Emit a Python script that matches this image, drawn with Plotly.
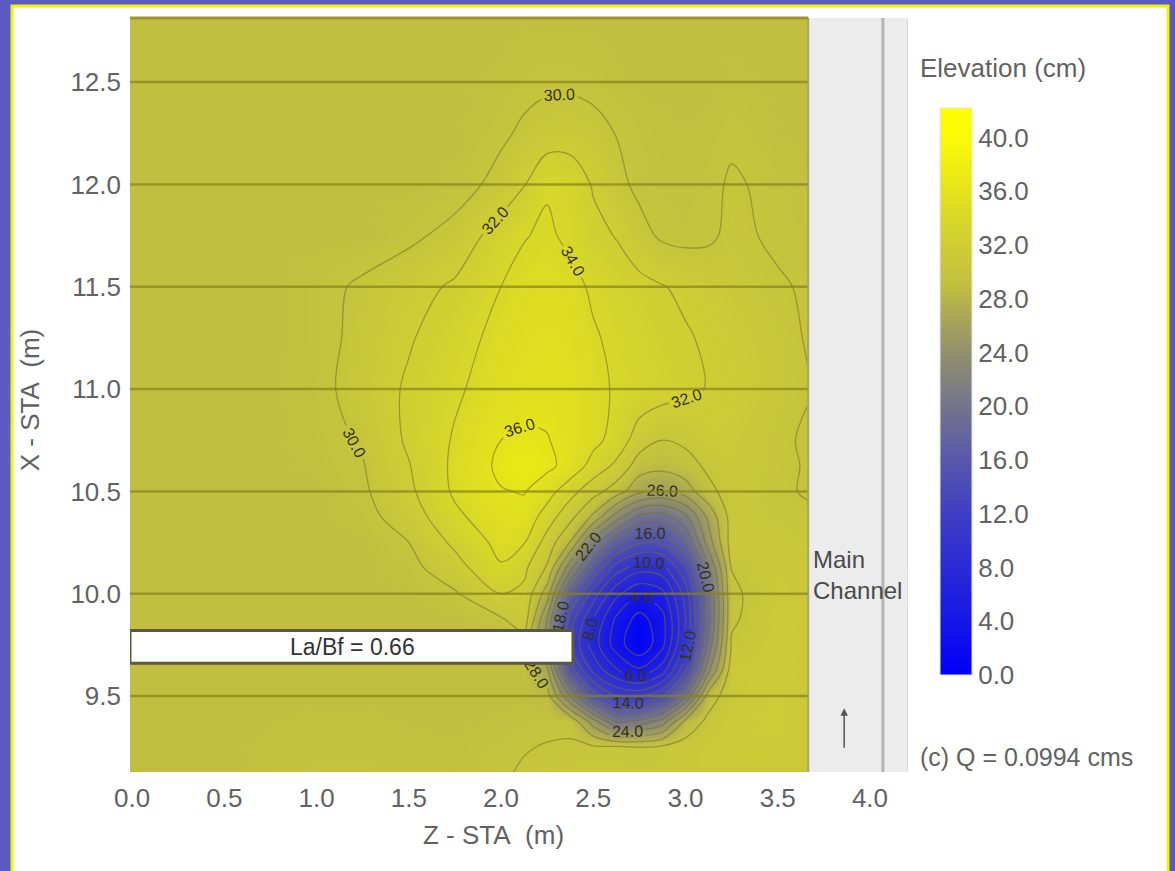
import plotly.graph_objects as go

# ---------------- data ----------------
z_sta = [0.0, 0.25, 0.5, 0.75, 1.0, 1.25, 1.5, 1.75, 2.0, 2.125, 2.25, 2.375,
         2.5, 2.625, 2.75, 2.875, 3.0, 3.125, 3.25, 3.5, 3.66]
x_sta = [9.12, 9.25, 9.375, 9.5, 9.625, 9.75, 9.875, 10.0, 10.125, 10.25, 10.375,
         10.5, 10.625, 10.75, 11.0, 11.25, 11.5, 11.75, 12.0, 12.25, 12.5, 12.82]

# elevation (cm), one row per x_sta value, one column per z_sta value
elevation = [
    [29.0, 29.0, 29.0, 29.3, 29.6, 29.6, 29.4, 29.3, 29.8, 30.2, 30.5, 30.6, 30.6, 30.6, 30.5, 30.6, 30.8, 31.0, 31.0, 31.0, 30.8],
    [29.0, 29.0, 29.0, 29.2, 29.4, 29.4, 29.3, 29.2, 29.6, 29.9, 30.1, 30.2, 30.3, 30.35, 30.05, 30.4, 30.8, 31.0, 31.2, 31.3, 31.0],
    [29.0, 29.0, 29.0, 29.1, 29.2, 29.2, 29.1, 29.0, 29.2, 29.4, 29.6, 29.6, 25.0, 20.0, 20.8, 23.0, 28.6, 30.5, 31.2, 31.5, 31.0],
    [29.0, 29.0, 29.0, 29.0, 29.0, 29.0, 29.0, 29.0, 29.0, 29.0, 28.8, 22.0, 15.0, 12.0, 11.6, 13.8, 19.9, 29.1, 31.0, 31.4, 31.0],
    [29.0, 29.0, 29.0, 29.0, 29.0, 29.0, 29.0, 29.0, 29.0, 29.0, 26.5, 15.0, 9.5, 6.2, 4.4, 7.0, 13.7, 23.6, 31.0, 31.2, 31.0],
    [29.0, 29.0, 29.0, 29.0, 29.0, 29.0, 29.0, 29.0, 29.0, 29.0, 23.5, 12.0, 7.0, 3.0, 0.3, 3.4, 10.7, 20.6, 30.2, 31.3, 31.0],
    [29.0, 29.0, 29.0, 29.0, 29.0, 29.0, 29.0, 29.0, 29.8, 31.0, 24.0, 13.0, 8.0, 3.6, 1.2, 3.3, 10.0, 19.4, 29.75, 31.2, 31.0],
    [29.0, 29.0, 29.0, 29.0, 29.0, 29.0, 29.0, 29.8, 32.0, 31.6, 27.0, 17.0, 11.0, 6.5, 4.2, 5.4, 10.8, 19.8, 29.7, 31.0, 30.8],
    [29.0, 29.0, 29.0, 29.0, 29.0, 29.0, 29.4, 31.2, 33.8, 32.4, 29.75, 22.7, 16.0, 11.0, 8.7, 9.2, 13.7, 21.7, 30.05, 30.9, 30.7],
    [29.0, 29.0, 29.0, 29.0, 29.0, 29.0, 30.0, 32.4, 34.6, 34.1, 31.2, 27.9, 21.2, 16.6, 14.2, 14.4, 18.0, 25.0, 30.9, 30.7, 30.5],
    [29.0, 29.0, 29.0, 29.0, 29.0, 29.4, 30.9, 33.6, 35.2, 35.4, 33.0, 30.6, 27.6, 23.0, 19.5, 19.0, 21.5, 26.5, 30.8, 30.4, 30.2],
    [29.0, 29.0, 29.0, 29.0, 29.0, 29.7, 31.6, 34.3, 35.9, 36.1, 34.9, 32.7, 30.8, 29.0, 26.5, 25.8, 27.0, 29.5, 30.8, 30.2, 29.9],
    [29.0, 29.0, 29.0, 29.0, 29.2, 29.9, 31.9, 34.4, 36.4, 37.2, 36.4, 35.4, 33.2, 31.6, 29.0, 28.6, 29.2, 30.4, 30.9, 30.3, 29.9],
    [29.0, 29.0, 29.0, 29.0, 29.3, 30.2, 32.3, 34.2, 36.0, 36.3, 36.1, 35.3, 34.6, 33.2, 31.0, 30.0, 30.4, 31.2, 31.0, 30.3, 29.8],
    [29.0, 29.0, 29.0, 29.0, 29.5, 30.7, 32.3, 33.7, 35.0, 35.3, 35.4, 35.2, 34.5, 33.8, 33.3, 32.9, 32.4, 31.9, 31.5, 30.6, 30.1],
    [29.0, 29.0, 29.0, 29.0, 29.4, 30.5, 31.8, 33.2, 34.6, 35.0, 35.2, 35.0, 34.2, 33.6, 33.1, 32.6, 32.2, 31.7, 31.3, 30.5, 29.9],
    [29.0, 29.0, 29.0, 29.0, 29.4, 30.3, 31.2, 32.3, 34.0, 34.6, 34.8, 34.6, 33.7, 33.1, 32.6, 32.1, 31.6, 31.2, 30.8, 30.2, 29.8],
    [29.0, 29.0, 29.0, 29.0, 29.0, 29.0, 29.6, 30.6, 33.0, 33.9, 34.3, 33.6, 32.6, 31.9, 30.6, 29.7, 29.5, 29.7, 30.4, 29.7, 29.4],
    [29.0, 29.0, 29.0, 29.0, 29.0, 29.0, 29.0, 29.2, 30.6, 31.9, 33.8, 33.5, 31.8, 30.5, 29.6, 29.4, 29.4, 29.6, 30.2, 29.6, 29.3],
    [29.0, 29.0, 29.0, 29.0, 29.0, 29.0, 29.0, 29.0, 29.7, 30.3, 30.8, 30.9, 30.6, 29.95, 29.5, 29.2, 29.1, 29.3, 29.7, 29.1, 29.0],
    [29.0, 29.0, 29.0, 29.0, 29.0, 29.0, 29.0, 29.0, 29.2, 29.5, 29.7, 29.7, 29.5, 29.2, 29.0, 29.0, 29.0, 29.0, 29.2, 29.0, 29.0],
    [29.0, 29.0, 29.0, 29.0, 29.0, 29.0, 29.0, 29.0, 29.0, 29.0, 29.0, 29.0, 29.0, 29.0, 29.0, 29.0, 29.0, 29.0, 29.0, 29.0, 29.0],
]

x_tick_values = [0.0, 0.5, 1.0, 1.5, 2.0, 2.5, 3.0, 3.5, 4.0]
y_tick_values = [9.5, 10.0, 10.5, 11.0, 11.5, 12.0, 12.5]
colorbar_ticks = [0, 4, 8, 12, 16, 20, 24, 28, 32, 36, 40]

abutment_length = 2.39          # m (La)
abutment_x = [9.66, 9.82]       # m
floodplain_edge = 3.665         # m
channel_line = 4.07             # m
ratio_label = "La/Bf = 0.66"
discharge_label = "(c) Q = 0.0994 cms"

# ---------------- style ----------------
ZMAX = 42.2
stops = [
    (0, "rgb(0,0,250)"), (4, "rgb(22,22,232)"), (8, "rgb(42,42,214)"),
    (12, "rgb(62,62,196)"), (16, "rgb(88,88,172)"), (20, "rgb(116,116,140)"),
    (24, "rgb(146,144,108)"), (27, "rgb(172,170,84)"), (29, "rgb(194,191,64)"),
    (31, "rgb(203,201,56)"), (33, "rgb(212,210,46)"), (35, "rgb(222,221,34)"),
    (37, "rgb(234,233,22)"), (40, "rgb(250,250,6)"), (ZMAX, "rgb(255,255,0)"),
]
colorscale = [[v / ZMAX, c] for v, c in stops]

FONT = "Liberation Sans, Arial, sans-serif"
TXT = "#626262"

XR = [-0.011, 4.206]
YR = [9.129, 12.813]

fig = go.Figure()

fig.add_trace(go.Heatmap(
    x=z_sta, y=x_sta, z=elevation, zsmooth="best",
    colorscale=colorscale, zmin=0, zmax=ZMAX, hoverinfo="skip",
    colorbar=dict(
        thickness=32, thicknessmode="pixels", len=567, lenmode="pixels",
        x=1.041, xanchor="left", xpad=0, y=0.5046, yanchor="middle", ypad=0,
        tickvals=colorbar_ticks, ticktext=[f"{v:.1f}" for v in colorbar_ticks],
        tickfont=dict(size=26, color=TXT, family=FONT), ticks="",
        outlinewidth=1, outlinecolor="#e4e4f4",
    ),
))

fig.add_trace(go.Contour(
    x=z_sta, y=x_sta, z=elevation, showscale=False, hoverinfo="skip",
    contours=dict(start=0, end=40, size=2, coloring="none", showlabels=True,
                  labelfont=dict(size=16, color="#33330c", family=FONT),
                  labelformat=".1f"),
    line=dict(color="rgba(115,112,45,0.55)", width=1.3, smoothing=1.0),
))

shapes = [
    # white page panel with yellow frame
    dict(type="rect", xref="paper", yref="paper", x0=-0.1517, x1=1.3342,
         y0=-0.2, y1=1.0159, fillcolor="white",
         line=dict(color="#f2f200", width=3), layer="below"),
]
# horizontal grid lines over the floodplain
for v in y_tick_values:
    shapes.append(dict(type="line", xref="x", yref="y", x0=XR[0], x1=floodplain_edge,
                       y0=v, y1=v, line=dict(color="rgba(135,130,25,0.7)", width=2.5),
                       layer="above"))
shapes += [
    # main channel strip
    dict(type="rect", xref="x", yref="paper", x0=floodplain_edge, x1=XR[1],
         y0=0, y1=1, fillcolor="#ececec", line=dict(width=0), layer="above"),
    dict(type="line", xref="x", yref="paper", x0=floodplain_edge, x1=floodplain_edge,
         y0=0, y1=1, line=dict(color="rgba(160,158,110,0.9)", width=2), layer="above"),
    dict(type="line", xref="x", yref="paper", x0=channel_line, x1=channel_line,
         y0=0, y1=1, line=dict(color="#b4b4b4", width=3), layer="above"),
    dict(type="line", xref="x", yref="paper", x0=XR[1], x1=XR[1],
         y0=0, y1=1, line=dict(color="#dcdcdc", width=2), layer="above"),
    # top border of the plot
    dict(type="line", xref="x", yref="paper", x0=XR[0], x1=floodplain_edge,
         y0=1, y1=1, line=dict(color="rgba(150,145,40,0.95)", width=3), layer="above"),
    # abutment
    dict(type="rect", xref="x", yref="y", x0=XR[0], x1=abutment_length,
         y0=abutment_x[0], y1=abutment_x[1], fillcolor="white",
         line=dict(color="#5a5a44", width=3), layer="above"),
]

annotations = [
    dict(text="Elevation (cm)", xref="paper", yref="paper", x=1.0129, y=0.9337,
         xanchor="left", yanchor="middle", showarrow=False,
         font=dict(size=26, color=TXT, family=FONT)),
    dict(text=discharge_label, xref="paper", yref="paper", x=1.0129, y=0.0199,
         xanchor="left", yanchor="middle", showarrow=False,
         font=dict(size=25, color=TXT, family=FONT)),
    dict(text="Z - STA\u00a0\u00a0(m)", xref="paper", yref="paper", x=0.4666, y=-0.0836,
         xanchor="center", yanchor="middle", showarrow=False,
         font=dict(size=26, color=TXT, family=FONT)),
    dict(text="X - STA\u00a0\u00a0(m)", xref="paper", yref="paper", x=-0.1285, y=0.493,
         xanchor="center", yanchor="middle", showarrow=False, textangle=-90,
         font=dict(size=26, color=TXT, family=FONT)),
    dict(text=ratio_label, xref="x", yref="y", x=abutment_length / 2,
         y=sum(abutment_x) / 2, xanchor="center", yanchor="middle", showarrow=False,
         font=dict(size=23, color="#333333", family=FONT)),
    dict(text="Main<br>Channel", xref="x", yref="y", x=floodplain_edge + 0.015, y=10.09,
         xanchor="left", yanchor="middle", align="left", showarrow=False,
         font=dict(size=24, color="#4a4a4a", family=FONT)),
    dict(text="", xref="x", yref="y", x=3.86, y=9.44, ax=3.86, ay=9.24,
         axref="x", ayref="y", showarrow=True, arrowhead=2, arrowsize=1,
         arrowwidth=1.5, arrowcolor="#555555"),
]

fig.update_layout(
    width=1175, height=871,
    margin=dict(l=130, r=267, t=18, b=99),
    paper_bgcolor="#5a5ac2", plot_bgcolor="#c3c040",
    font=dict(family=FONT, color=TXT),
    shapes=shapes, annotations=annotations, showlegend=False,
    xaxis=dict(range=XR, tickvals=x_tick_values,
               ticktext=[f"{v:.1f}" for v in x_tick_values],
               showgrid=False, zeroline=False, showline=False, ticks="",
               tickfont=dict(size=26, color=TXT, family=FONT),
               ticklabelstandoff=8, layer="above traces"),
    yaxis=dict(range=YR, tickvals=y_tick_values,
               ticktext=[f"{v:.1f}" for v in y_tick_values],
               showgrid=False, zeroline=False, showline=False, ticks="",
               tickfont=dict(size=26, color=TXT, family=FONT),
               ticklabelstandoff=8, layer="above traces"),
)

fig.write_html(
    "out.html",
    config={"displayModeBar": False},
    post_script="document.body.style.margin='0';document.body.style.overflow='hidden';",
)
